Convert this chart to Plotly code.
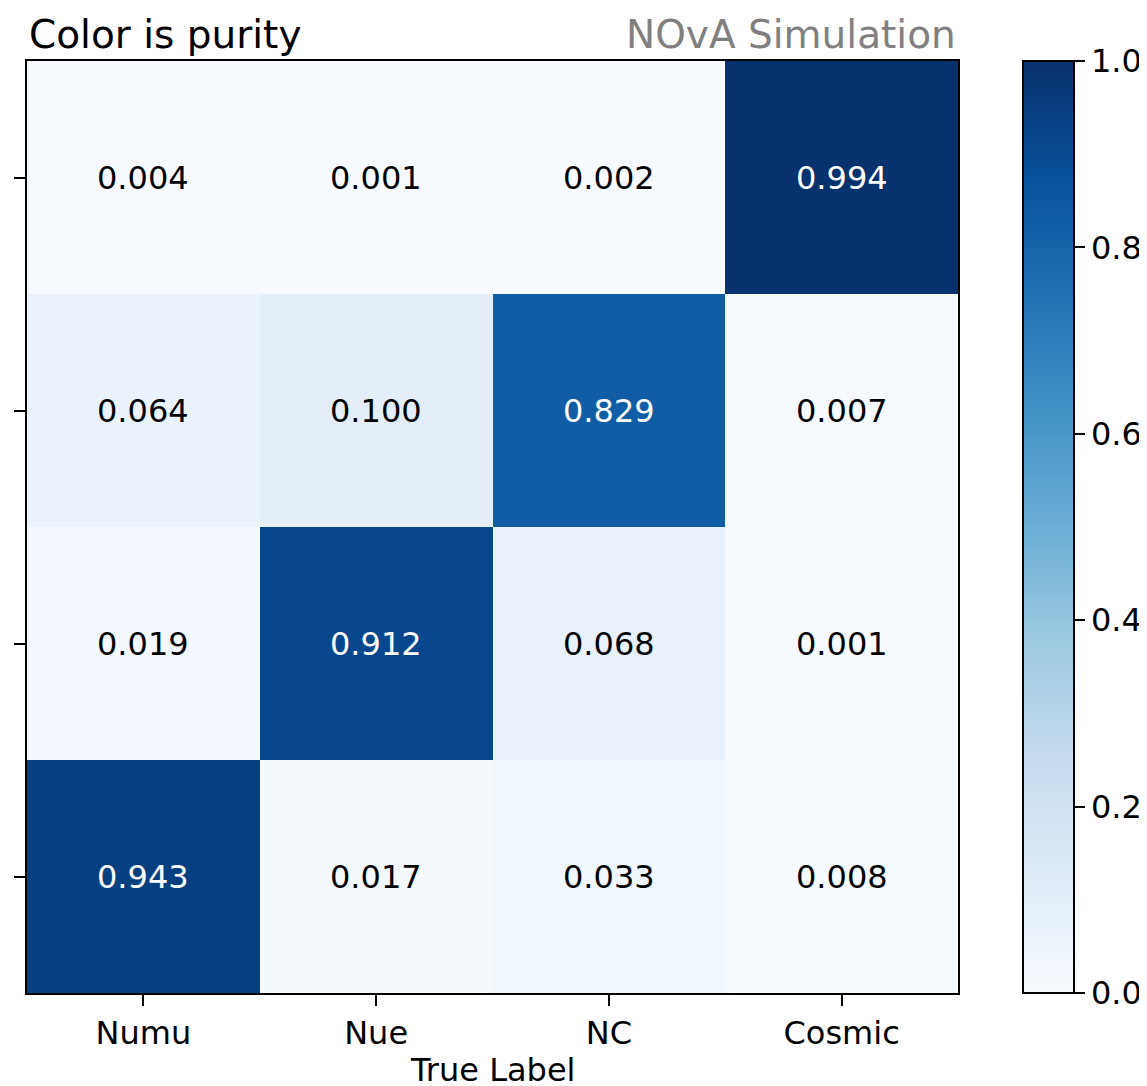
import plotly.graph_objects as go

true_labels = ["Numu", "Nue", "NC", "Cosmic"]
pred_labels = ["Numu", "Nue", "NC", "Cosmic"]
purity = [
    [0.943, 0.017, 0.033, 0.008],
    [0.019, 0.912, 0.068, 0.001],
    [0.064, 0.100, 0.829, 0.007],
    [0.004, 0.001, 0.002, 0.994],
]
cbar_ticks = [0.0, 0.2, 0.4, 0.6, 0.8, 1.0]

blues = [
    [0.0, "#f7fbff"], [0.125, "#deebf7"], [0.25, "#c6dbef"], [0.375, "#9ecae1"],
    [0.5, "#6baed6"], [0.625, "#4292c6"], [0.75, "#2171b5"], [0.875, "#08519c"],
    [1.0, "#08306b"],
]

# The page has an 8px body margin, so the figure is drawn offset by 8px.
OFF = 8
W, H = 1147 - OFF, 1086 - OFF
L, R, T, B = 27 - OFF, 958 - OFF, 61 - OFF, 993 - OFF
pw, ph = R - L, B - T
FONT = "DejaVu Sans"

fig = go.Figure()
fig.add_trace(go.Heatmap(
    z=purity, x=true_labels, y=pred_labels,
    colorscale=blues, zmin=0, zmax=1,
    hoverinfo="skip",
    colorbar=dict(
        x=(1023 - OFF - L) / pw, xanchor="left", xpad=0, ypad=0,
        y=0.5, yanchor="middle",
        thickness=51, thicknessmode="pixels",
        len=ph, lenmode="pixels",
        outlinewidth=2, outlinecolor="black",
        ticks="outside", ticklen=10, tickwidth=2, tickcolor="black",
        tickvals=cbar_ticks, ticktext=[f"{v:.1f}" for v in cbar_ticks],
        tickfont=dict(family=FONT, size=32, color="black"),
    ),
))

annotations = []
for i, row in enumerate(purity):
    for j, v in enumerate(row):
        annotations.append(dict(
            x=true_labels[j], y=pred_labels[i], xref="x", yref="y",
            text=f"{v:.3f}", showarrow=False,
            font=dict(family=FONT, size=32, color="white" if v > 0.5 else "black"),
        ))

title_y = 1 + (T - (35 - OFF)) / ph
annotations.append(dict(
    x=0, y=title_y, xref="paper", yref="paper", xanchor="left", yanchor="middle",
    text="Color is purity", showarrow=False,
    font=dict(family=FONT, size=39, color="black"),
))
annotations.append(dict(
    x=1, y=title_y, xref="paper", yref="paper", xanchor="right", yanchor="middle",
    text="NOvA Simulation", showarrow=False,
    font=dict(family=FONT, size=39, color="#808080"),
))
annotations.append(dict(
    x=0.5, y=-((1070 - OFF) - B) / ph, xref="paper", yref="paper", xanchor="center", yanchor="middle",
    text="True Label", showarrow=False,
    font=dict(family=FONT, size=32, color="black"),
))

axis_common = dict(
    showline=True, mirror=True, linecolor="black", linewidth=2,
    ticks="outside", ticklen=11, tickwidth=2, tickcolor="black",
    showgrid=False, zeroline=False, automargin=False,
    tickfont=dict(family=FONT, size=32, color="black"),
)

fig.update_layout(
    width=W, height=H,
    margin=dict(l=L, r=W - R, t=T, b=H - B, pad=0, autoexpand=False),
    paper_bgcolor="white", plot_bgcolor="white",
    xaxis=dict(**axis_common, type="category", categoryorder="array", categoryarray=true_labels),
    yaxis=dict(**axis_common, type="category", categoryorder="array", categoryarray=pred_labels),
    annotations=annotations,
    showlegend=False,
)

fig.write_html("out.html")
